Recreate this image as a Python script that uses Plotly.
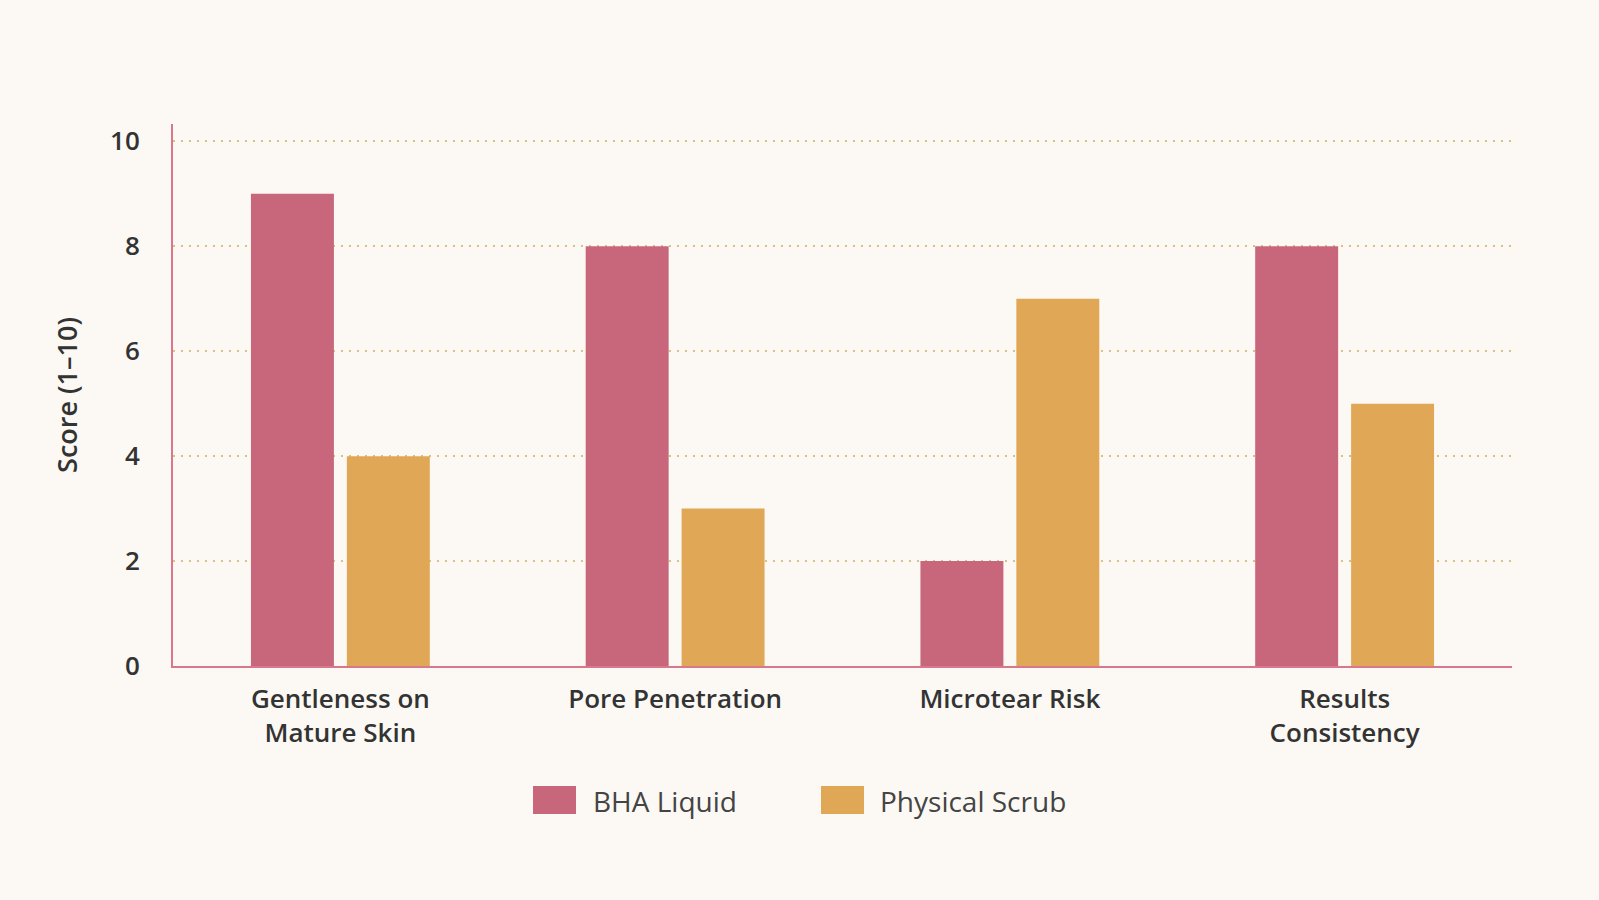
import plotly.graph_objects as go

categories = ["Gentleness on<br>Mature Skin", "Pore Penetration", "Microtear Risk", "Results<br>Consistency"]
series_names = ["BHA Liquid", "Physical Scrub"]
bha_liquid = [9, 8, 2, 8]
physical_scrub = [4, 3, 7, 5]
y_ticks = [0, 2, 4, 6, 8, 10]
colors = ["#C8667B", "#E0A856"]

W, H = 1599, 900
L, R, T, B = 173, 87, 124, 234
FONT = "Open Sans"

def px_to_paper(px, py):
    return (px - L) / (W - L - R), (H - B - py) / (H - T - B)

fig = go.Figure()
for name, vals, col in zip(series_names, [bha_liquid, physical_scrub], colors):
    fig.add_trace(go.Bar(name=name, x=categories, y=vals,
                         marker=dict(color=col, line=dict(width=0))))

# custom legend (large swatches)
legend_items = [(533, 591), (821, 878)]
shapes, annotations = [], []
for (sx, tx), name, col in zip(legend_items, series_names, colors):
    x0, y0 = px_to_paper(sx, 814)
    x1, y1 = px_to_paper(sx + 43, 786)
    shapes.append(dict(type="rect", xref="paper", yref="paper", x0=x0, y0=y0, x1=x1, y1=y1,
                       fillcolor=col, line=dict(width=0)))
    ax, ay = px_to_paper(tx, 801)
    annotations.append(dict(xref="paper", yref="paper", x=ax, y=ay, xanchor="left", yanchor="middle",
                            text=name, showarrow=False,
                            font=dict(family=FONT, size=28, color="#444444")))

fig.update_layout(
    width=W, height=H,
    paper_bgcolor="#FCF9F4", plot_bgcolor="#FCF9F4",
    margin=dict(l=L, r=R, t=T, b=B),
    barmode="group", bargap=0.427, bargroupgap=0.135,
    font=dict(family=FONT, color="#333333", size=24),
    showlegend=False,
    shapes=shapes, annotations=annotations,
)
fig.update_xaxes(
    showline=True, linecolor="#D9788C", linewidth=2,
    tickfont=dict(size=26, color="#333333", family=FONT, weight=600),
    ticks="", ticklabelstandoff=9, showgrid=False,
)
fig.update_yaxes(
    range=[0, 10.33], tickvals=y_ticks,
    showline=True, linecolor="#D9788C", linewidth=2,
    showgrid=True, gridcolor="#D9C084", griddash="2px,6px", gridwidth=2,
    zeroline=False,
    tickfont=dict(size=26, color="#333333", family=FONT, weight=600),
    ticks="", ticklabelstandoff=26,
    title=dict(text="Score (1–10)", font=dict(size=27, color="#333333", family=FONT, weight=600), standoff=25),
)
fig.write_html("out.html")
